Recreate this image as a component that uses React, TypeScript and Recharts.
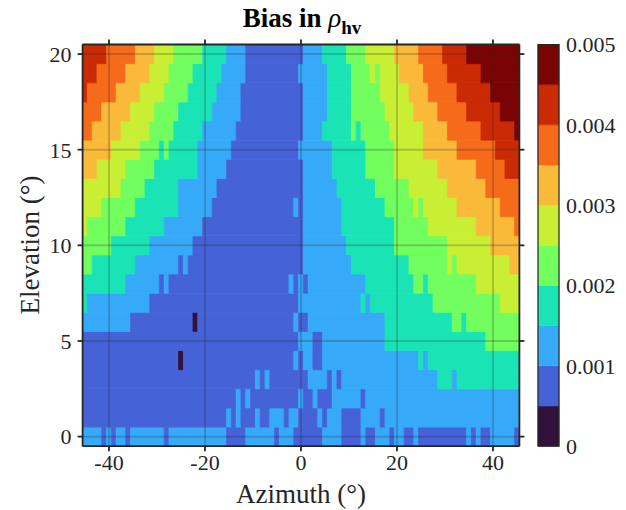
import React from 'react';
import { ComposedChart, XAxis, YAxis, ReferenceArea, ReferenceLine, Scatter } from 'recharts';

// each run: [first azimuth of the run (deg), bias bin index]; a run lasts until the next one starts
type Run = [number, number];

const elevations = [0, 1, 2, 3, 4, 5, 6, 7, 8, 9, 10, 11, 12, 13, 14, 15, 16, 17, 18, 19, 20];
const azimuthLimits = [-45, 45];
const xTicks = [-40, -20, 0, 20, 40];
const yTicks = [0, 5, 10, 15, 20];
const binEdges = [0, 0.0005, 0.001, 0.0015, 0.002, 0.0025, 0.003, 0.0035, 0.004, 0.0045, 0.005];
const cbTicks = [0, 0.001, 0.002, 0.003, 0.004, 0.005];
const binColors = ['#30123b', '#4662d7', '#36aaf9', '#1ae4b6', '#72fe5e', '#c8ef34', '#faba39', '#f66b19', '#ca2a04', '#7a0403'];

const el20: Run[] = [[-45, 8], [-40, 7], [-34, 6], [-30, 5], [-26, 4], [-20, 3], [-15, 2], [-11, 1], [1, 2], [5, 3], [10, 4], [14, 5], [20, 6], [25, 7], [30, 8], [35, 9]];
const el19: Run[] = [[-45, 8], [-42, 7], [-36, 6], [-31, 5], [-27, 4], [-22, 3], [-16, 2], [-11, 1], [0, 2], [6, 3], [11, 4], [15, 5], [16, 4], [17, 5], [21, 6], [26, 7], [31, 8], [38, 9]];
const el18: Run[] = [[-45, 8], [-44, 7], [-38, 6], [-33, 5], [-28, 4], [-23, 3], [-17, 2], [-12, 1], [1, 2], [6, 3], [11, 4], [17, 5], [23, 6], [27, 7], [33, 8], [40, 9]];
const el17: Run[] = [[-45, 7], [-41, 6], [-35, 5], [-30, 4], [-25, 3], [-18, 2], [-12, 1], [1, 2], [6, 3], [11, 4], [18, 5], [24, 6], [29, 7], [35, 8], [42, 9]];
const el16: Run[] = [[-45, 7], [-43, 6], [-37, 5], [-31, 4], [-26, 3], [-20, 2], [-13, 1], [1, 2], [5, 3], [11, 4], [12, 3], [13, 4], [19, 5], [26, 6], [31, 7], [38, 8], [45, 9]];
const el15: Run[] = [[-45, 6], [-39, 5], [-33, 4], [-29, 3], [-28, 4], [-27, 3], [-21, 2], [-14, 1], [0, 2], [7, 3], [14, 4], [20, 5], [26, 6], [33, 7], [41, 8]];
const el14: Run[] = [[-45, 6], [-42, 5], [-36, 4], [-30, 3], [-21, 2], [-15, 1], [1, 2], [7, 3], [14, 4], [20, 5], [29, 6], [37, 7], [43, 8]];
const el13: Run[] = [[-45, 5], [-37, 4], [-32, 3], [-25, 2], [-17, 1], [1, 2], [8, 3], [16, 4], [23, 5], [31, 6], [39, 7]];
const el12: Run[] = [[-45, 5], [-41, 4], [-34, 3], [-25, 2], [-18, 1], [-1, 2], [0, 1], [1, 2], [9, 3], [18, 4], [24, 5], [25, 4], [26, 5], [33, 6], [42, 7]];
const el11: Run[] = [[-45, 5], [-44, 4], [-36, 3], [-28, 2], [-20, 1], [1, 2], [9, 3], [20, 4], [27, 5], [37, 6], [45, 7]];
const el10: Run[] = [[-45, 4], [-39, 3], [-31, 2], [-22, 1], [1, 2], [10, 3], [20, 4], [31, 5], [40, 6]];
const el9: Run[] = [[-45, 4], [-43, 3], [-34, 2], [-25, 1], [-24, 2], [-23, 1], [1, 2], [11, 3], [23, 4], [31, 5], [32, 4], [33, 5], [44, 6]];
const el8: Run[] = [[-45, 3], [-36, 2], [-29, 1], [-28, 2], [-27, 1], [-2, 2], [-1, 1], [0, 2], [1, 1], [2, 2], [14, 3], [24, 4], [26, 3], [27, 4], [37, 5]];
const el7: Run[] = [[-45, 3], [-44, 2], [-31, 1], [0, 2], [13, 3], [14, 2], [15, 3], [28, 4], [42, 5]];
const el6: Run[] = [[-45, 2], [-35, 1], [-22, 0], [-21, 1], [-1, 2], [0, 1], [2, 2], [18, 3], [32, 4], [34, 3], [35, 4]];
const el5: Run[] = [[-45, 1], [0, 2], [3, 1], [5, 2], [18, 3], [39, 4]];
const el4: Run[] = [[-45, 1], [-25, 0], [-24, 1], [-1, 2], [0, 1], [1, 2], [3, 1], [5, 2], [25, 3], [26, 2], [27, 3]];
const el3: Run[] = [[-45, 1], [-9, 2], [-8, 1], [-7, 2], [-6, 1], [2, 2], [6, 1], [7, 2], [8, 1], [9, 2], [29, 3], [32, 2], [33, 3]];
const el2: Run[] = [[-45, 1], [-13, 2], [-12, 1], [-11, 2], [-10, 1], [0, 2], [1, 1], [3, 2], [4, 1], [7, 2], [13, 1], [14, 2]];
const el1: Run[] = [[-45, 1], [-15, 2], [-14, 1], [-13, 2], [-12, 1], [-9, 2], [-8, 1], [-6, 2], [-3, 1], [-2, 2], [0, 1], [4, 2], [5, 1], [6, 2], [9, 1], [13, 2], [17, 1], [18, 2]];
const el0: Run[] = [[-45, 2], [-41, 1], [-40, 2], [-39, 1], [-38, 2], [-36, 1], [-35, 2], [-28, 1], [-27, 2], [-15, 1], [-11, 2], [-5, 1], [-4, 2], [-1, 1], [5, 2], [9, 1], [13, 2], [14, 1], [16, 2], [19, 1], [20, 2], [22, 1], [24, 2], [25, 1], [35, 2], [36, 1], [37, 2], [38, 1], [40, 2], [45, 1]];

const rows = [el0, el1, el2, el3, el4, el5, el6, el7, el8, el9, el10, el11, el12, el13, el14, el15, el16, el17, el18, el19, el20];

const FONT = '"Liberation Serif", "Times New Roman", serif';
const INK = '#262626';

// one block per run, 1 deg wide azimuth bins, 1 deg elevation bins
const cells = rows.flatMap((runs, i) =>
  runs.map((run, j) => ({
    el: elevations[i],
    az0: run[0],
    az1: j + 1 < runs.length ? runs[j + 1][0] - 1 : azimuthLimits[1],
    bin: run[1],
  }))
);
const centers = cells.map(c => ({ az: (c.az0 + c.az1) / 2, el: c.el }));
const cbData = binColors.map((_, i) => ({ x: 0.5, v: (binEdges[i] + binEdges[i + 1]) / 2 }));

const tickStyle = { fontFamily: FONT, fontSize: 22, fill: INK };
const axisLine = { stroke: INK, strokeWidth: 1.8 };

export default function App() {
  return (
    <div style={{ position: 'absolute', left: 0, top: 0, width: 626, height: 510, background: '#fff', fontFamily: FONT }}>
      <ComposedChart width={626} height={510} data={centers} margin={{ top: 34.5, right: 96.6, bottom: 33.8, left: 32.6 }}>
        <XAxis xAxisId="b" type="number" dataKey="az" domain={[-45.5, 45.5]} ticks={xTicks} allowDataOverflow
          tick={tickStyle} tickSize={5} tickMargin={3} axisLine={axisLine} tickLine={axisLine} height={30} />
        <XAxis xAxisId="t" orientation="top" type="number" dataKey="az" domain={[-45.5, 45.5]} ticks={xTicks} allowDataOverflow
          tickFormatter={() => ''} tickSize={5} axisLine={axisLine} tickLine={axisLine} height={10} />
        <YAxis yAxisId="l" type="number" dataKey="el" domain={[-0.5, 20.5]} ticks={yTicks} allowDataOverflow
          tick={tickStyle} tickSize={5} tickMargin={6} axisLine={axisLine} tickLine={axisLine} width={50} />
        <YAxis yAxisId="r" orientation="right" type="number" dataKey="el" domain={[-0.5, 20.5]} ticks={yTicks} allowDataOverflow
          tickFormatter={() => ''} tickSize={5} axisLine={axisLine} tickLine={axisLine} width={10} />
        {cells.map((c, i) => (
          <ReferenceArea key={i} xAxisId="b" yAxisId="l" x1={c.az0 - 0.5} x2={c.az1 + 0.5} y1={c.el - 0.5} y2={c.el + 0.5}
            fill={binColors[c.bin]} fillOpacity={1} stroke={binColors[c.bin]} strokeWidth={0.8} />
        ))}
        {xTicks.map(t => (
          <ReferenceLine key={'x' + t} xAxisId="b" yAxisId="l" x={t} stroke={INK} strokeOpacity={0.22} strokeWidth={2} />
        ))}
        {yTicks.map(t => (
          <ReferenceLine key={'y' + t} xAxisId="b" yAxisId="l" y={t} stroke={INK} strokeOpacity={0.22} strokeWidth={2} />
        ))}
        <Scatter xAxisId="b" yAxisId="l" dataKey="el" shape={() => <g />} isAnimationActive={false} />
      </ComposedChart>

      <div style={{ position: 'absolute', left: 520, top: 0 }}>
        <ComposedChart width={106} height={510} data={cbData} margin={{ top: 44.5, right: 7, bottom: 63.8, left: 18 }}>
          <XAxis xAxisId="c" type="number" dataKey="x" domain={[0, 1]} hide />
          <YAxis yAxisId="c" orientation="right" type="number" dataKey="v" domain={[0, 0.005]} ticks={cbTicks} allowDataOverflow
            tickFormatter={(v: number) => (v === 0 ? '0' : v.toFixed(3))}
            tick={{ ...tickStyle, textAnchor: 'start' }} tickSize={0} tickMargin={7} axisLine={false} tickLine={false} width={60} />
          {binColors.map((col, i) => (
            <ReferenceArea key={i} xAxisId="c" yAxisId="c" x1={0} x2={1} y1={binEdges[i]} y2={binEdges[i + 1]}
              fill={col} fillOpacity={1} stroke={col} strokeWidth={0.5} />
          ))}
          <ReferenceArea xAxisId="c" yAxisId="c" x1={0} x2={1} y1={0} y2={0.005} fill="none" fillOpacity={0} stroke={INK} strokeWidth={1.2} />
          <Scatter xAxisId="c" yAxisId="c" dataKey="v" shape={() => <g />} isAnimationActive={false} />
        </ComposedChart>
      </div>

      <div style={{ position: 'absolute', left: 0, width: 604, top: 3, textAlign: 'center', fontSize: 27, fontWeight: 'bold', color: '#000', whiteSpace: 'nowrap', lineHeight: '30px' }}>
        Bias in <span style={{ fontStyle: 'italic', fontWeight: 'normal' }}>ρ</span>
        <span style={{ fontSize: 19, position: 'relative', top: 7 }}>hv</span>
      </div>
      <div style={{ position: 'absolute', left: 301, top: 494, transform: 'translate(-50%, -50%)', fontSize: 27, color: INK, whiteSpace: 'nowrap' }}>
        Azimuth (°)
      </div>
      <div style={{ position: 'absolute', left: 30, top: 245, transform: 'translate(-50%, -50%) rotate(-90deg)', fontSize: 27, color: INK, whiteSpace: 'nowrap' }}>
        Elevation (°)
      </div>
    </div>
  );
}
